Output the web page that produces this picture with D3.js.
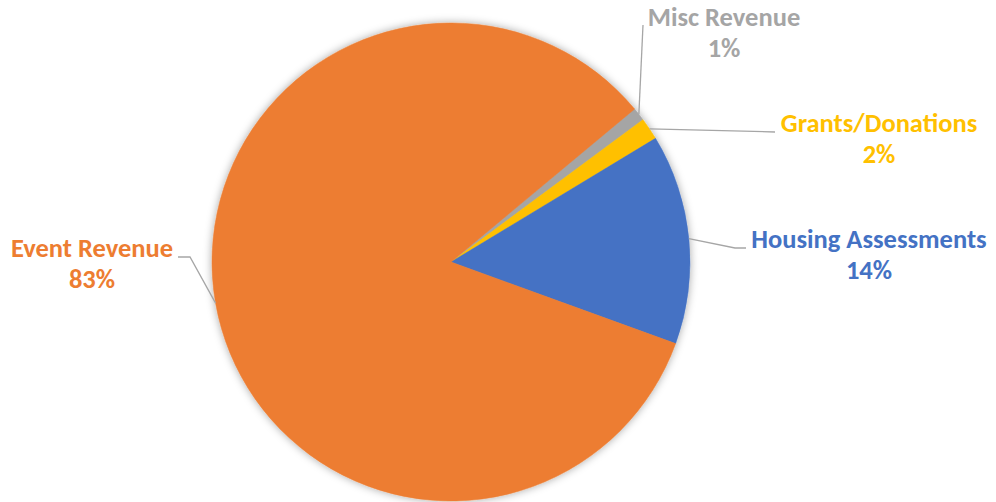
<!DOCTYPE html>
<html>
<head>
<meta charset="utf-8">
<script src="https://cdn.jsdelivr.net/npm/d3@7"></script>
<style>
  html, body { margin: 0; padding: 0; background: #fff; }
  svg { display: block; }
  .label { font-family: Calibri, Carlito, 'Open Sans', sans-serif; font-weight: 700; font-size: 26.5px; }
</style>
</head>
<body>
<svg id="chart" width="996" height="502"></svg>
<script>
// data (clockwise from the Misc slice)
const categories = ['Misc Revenue', 'Grants/Donations', 'Housing Assessments', 'Event Revenue'];
const values = [0.9, 1.5, 14.2, 83.4];
const colors = ['#A5A5A5', '#FFC000', '#4472C4', '#ED7D31'];

// label layout: text centre, name baseline, name width, leader bend points
const labelLayout = [
  { cx: 724, y: 26, w: 154, path: [[643, 25]] },
  { cx: 879, y: 132, w: 200, path: [[775, 132]] },
  { cx: 869, y: 248, w: 237, path: [[735, 248], [746, 248]] },
  { cx: 92, y: 257, w: 165, path: [[190, 257], [178, 257]] },
];

const cx = 451;
const cy = 262;
const radius = 239;
const start = (50.2 * Math.PI) / 180;

const svg = d3.select('#chart');

const defs = svg.append('defs');
const filter = defs
  .append('filter')
  .attr('id', 'shadow')
  .attr('x', '-10%')
  .attr('y', '-10%')
  .attr('width', '120%')
  .attr('height', '120%');
filter
  .append('feDropShadow')
  .attr('dx', 0)
  .attr('dy', 0)
  .attr('stdDeviation', 4)
  .attr('flood-color', '#000')
  .attr('flood-opacity', 0.35);

const total = d3.sum(values);
const data = categories.map((c, i) => ({ name: c, value: values[i], color: colors[i], layout: labelLayout[i] }));

const pie = d3
  .pie()
  .sort(null)
  .value((d) => d.value)
  .startAngle(start)
  .endAngle(start + 2 * Math.PI);

const arcs = pie(data);
const arc = d3.arc().innerRadius(0).outerRadius(radius);

const g = svg.append('g').attr('transform', `translate(${cx},${cy})`);

// 그림자 있는 파이
g.append('g')
  .attr('filter', 'url(#shadow)')
  .selectAll('path')
  .data(arcs)
  .enter()
  .append('path')
  .attr('d', arc)
  .attr('fill', (d) => d.data.color)
  .attr('stroke', (d) => d.data.color)
  .attr('stroke-width', 0.5);

// 지시선
const line = d3.line();
svg
  .selectAll('.leader')
  .data(arcs)
  .enter()
  .append('path')
  .attr('class', 'leader')
  .attr('fill', 'none')
  .attr('stroke', '#A6A6A6')
  .attr('stroke-width', 1.3)
  .attr('d', (d) => {
    const mid = (d.startAngle + d.endAngle) / 2;
    const p0 = [cx + radius * Math.sin(mid), cy - radius * Math.cos(mid)];
    return line([p0, ...d.data.layout.path]);
  });

// 라벨
const labels = svg
  .selectAll('.label')
  .data(arcs)
  .enter()
  .append('text')
  .attr('class', 'label')
  .attr('text-anchor', 'middle')
  .attr('fill', (d) => d.data.color);

labels
  .append('tspan')
  .attr('x', (d) => d.data.layout.cx)
  .attr('y', (d) => d.data.layout.y)
  .text((d) => d.data.name)
  .each(function (d) {
    const len = this.getComputedTextLength();
    if (len > d.data.layout.w) {
      d3.select(this).attr('textLength', d.data.layout.w).attr('lengthAdjust', 'spacingAndGlyphs');
    }
  });

labels
  .append('tspan')
  .attr('x', (d) => d.data.layout.cx)
  .attr('y', (d) => d.data.layout.y + 31)
  .text((d) => `${Math.round((d.data.value / total) * 100)}%`);
</script>
</body>
</html>
